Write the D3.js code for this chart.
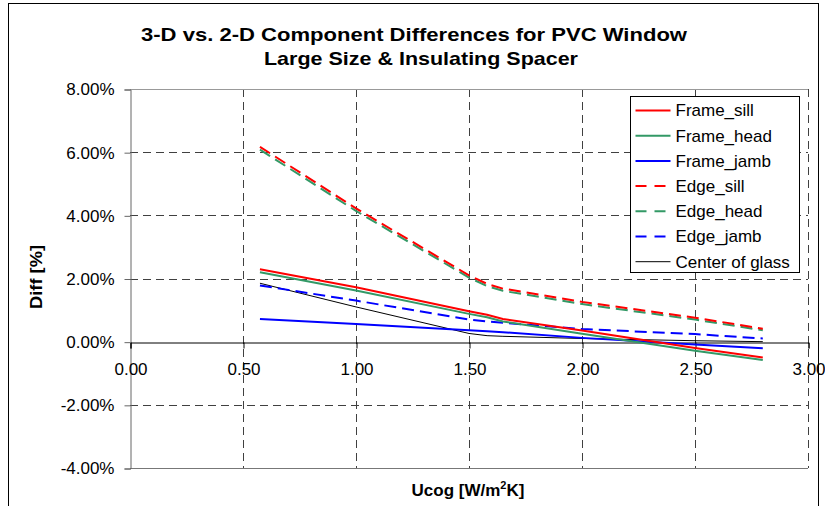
<!DOCTYPE html>
<html>
<head>
<meta charset="utf-8">
<script src="https://cdn.jsdelivr.net/npm/d3@7"></script>
<style>
  body { margin: 0; background: #fff; }
  text { font-family: "Liberation Sans", Arial, sans-serif; }
</style>
</head>
<body>
<div id="chart"></div>
<script>
// Ucog values [W/m2K]
var ucog = [0.575, 1.0, 1.5, 1.58, 1.65, 2.0, 2.5, 2.8];

// differences in %
var frameSill  = [2.29, 1.72, 0.96, 0.85, 0.72, 0.35, -0.20, -0.50];
var frameHead  = [2.20, 1.62, 0.88, 0.77, 0.64, 0.25, -0.29, -0.58];
var frameJamb  = [0.72, 0.56, 0.36, 0.33, 0.30, 0.12, -0.09, -0.21];
var edgeSill   = [6.17, 4.22, 2.10, 1.83, 1.68, 1.26, 0.76, 0.41];
var edgeHead   = [6.08, 4.14, 2.03, 1.76, 1.61, 1.19, 0.70, 0.36];
var edgeJamb   = [1.78, 1.30, 0.70, 0.64, 0.60, 0.40, 0.24, 0.10];
var centerGlass = [1.85, 1.10, 0.26, 0.19, 0.17, 0.10, 0.03, 0.00];

var seriesNames = ["Frame_sill", "Frame_head", "Frame_jamb", "Edge_sill", "Edge_head", "Edge_jamb", "Center of glass"];
var seriesValues = [frameSill, frameHead, frameJamb, edgeSill, edgeHead, edgeJamb, centerGlass];
var seriesColors = ["#ff0000", "#339966", "#0000ff", "#ff0000", "#339966", "#0000ff", "#000000"];
var seriesDashed = [false, false, false, true, true, true, false];

var xTicks = [0, 0.5, 1.0, 1.5, 2.0, 2.5, 3.0];
var yTicks = [-4, -2, 0, 2, 4, 6, 8];

var width = 825, height = 506;
var plot = {left: 130, right: 808, top: 89, bottom: 468};

var svg = d3.select("#chart").append("svg")
    .attr("width", width)
    .attr("height", height);

// outer chart border
svg.append("rect")
    .attr("x", 8.5).attr("y", 3.5)
    .attr("width", 810).attr("height", 530)
    .attr("fill", "#fff")
    .attr("stroke", "#000");

var x = d3.scaleLinear().domain([0, 3]).range([plot.left, plot.right]);
var y = d3.scaleLinear().domain([-4, 8]).range([plot.bottom, plot.top]);

// gridlines
var grid = svg.append("g");
grid.selectAll(".hg")
    .data(yTicks.filter(function(d) { return d != 0 && d != -4 && d != 8; }))
    .enter().append("line")
      .attr("x1", plot.left).attr("x2", plot.right)
      .attr("y1", function(d) { return Math.round(y(d)) + 0.5; })
      .attr("y2", function(d) { return Math.round(y(d)) + 0.5; })
      .attr("stroke", "#404040")
      .attr("stroke-dasharray", "8,5");
grid.selectAll(".vg")
    .data(xTicks.filter(function(d) { return d > 0; }))
    .enter().append("line")
      .attr("y1", plot.top).attr("y2", plot.bottom)
      .attr("x1", function(d) { return Math.round(x(d)) + 0.5; })
      .attr("x2", function(d) { return Math.round(x(d)) + 0.5; })
      .attr("stroke", "#404040")
      .attr("stroke-dasharray", "8,5");

// top and bottom edges of plot area
svg.append("line")
    .attr("x1", plot.left).attr("x2", plot.right)
    .attr("y1", Math.round(y(8)) + 0.5).attr("y2", Math.round(y(8)) + 0.5)
    .attr("stroke", "#999");
svg.append("line")
    .attr("x1", plot.left).attr("x2", plot.right)
    .attr("y1", Math.round(y(-4)) + 0.5).attr("y2", Math.round(y(-4)) + 0.5)
    .attr("stroke", "#777");

// y axis
var yAxis = d3.axisLeft(y)
    .tickValues(yTicks)
    .tickSize(6)
    .tickPadding(10)
    .tickFormat(function(d) { return d.toFixed(2) + "%"; });
var gy = svg.append("g")
    .attr("transform", "translate(" + (plot.left + 0.5) + ",0.5)")
    .call(yAxis);
gy.select(".domain").attr("stroke", "#666");
gy.selectAll(".tick line").attr("stroke", "#666");
gy.selectAll("text").attr("font-size", 17).attr("fill", "#000")
    .attr("font-family", "Liberation Sans, Arial, sans-serif");

// x axis on zero line
var xAxis = d3.axisBottom(x)
    .tickValues(xTicks)
    .tickSize(6)
    .tickPadding(14)
    .tickFormat(function(d) { return d.toFixed(2); });
var gx = svg.append("g")
    .attr("transform", "translate(0.5," + (Math.round(y(0)) + 0.5) + ")")
    .call(xAxis);
gx.select(".domain").attr("stroke", "#000");
gx.selectAll(".tick line").attr("stroke", "#000");
gx.selectAll("text").attr("font-size", 17).attr("fill", "#000")
    .attr("font-family", "Liberation Sans, Arial, sans-serif");

// series
var line = d3.line()
    .x(function(d) { return x(d[0]); })
    .y(function(d) { return y(d[1]); });

var drawOrder = [6, 5, 2, 4, 3, 1, 0];
drawOrder.forEach(function(i) {
  var pts = ucog.map(function(u, k) { return [u, seriesValues[i][k]]; });
  svg.append("path")
      .datum(pts)
      .attr("d", line)
      .attr("fill", "none")
      .attr("stroke", seriesColors[i])
      .attr("stroke-width", i == 6 ? 1 : 2)
      .attr("stroke-dasharray", seriesDashed[i] ? "12,6" : null);
});

// legend
var legend = svg.append("g").attr("transform", "translate(630.5,96.5)");
legend.append("rect")
    .attr("width", 169).attr("height", 176)
    .attr("fill", "#fff")
    .attr("stroke", "#000");
var item = legend.selectAll(".item")
    .data(seriesNames)
    .enter().append("g")
      .attr("transform", function(d, i) { return "translate(0," + (14 + i * 25.2) + ")"; });
item.append("line")
    .attr("x1", 5).attr("x2", 40)
    .attr("stroke", function(d, i) { return seriesColors[i]; })
    .attr("stroke-width", function(d, i) { return i == 6 ? 1 : 2; })
    .attr("stroke-dasharray", function(d, i) { return seriesDashed[i] ? "11,8" : null; });
item.append("text")
    .attr("x", 45)
    .attr("dy", "0.35em")
    .attr("font-size", 17)
    .text(function(d) { return d; });

// titles (the original text is drawn a bit wider than the font)
svg.append("text")
    .attr("x", 414).attr("y", 41)
    .attr("text-anchor", "middle")
    .attr("font-size", 19).attr("font-weight", "bold")
    .attr("textLength", 546).attr("lengthAdjust", "spacingAndGlyphs")
    .text("3-D vs. 2-D Component Differences for PVC Window");
svg.append("text")
    .attr("x", 421).attr("y", 65)
    .attr("text-anchor", "middle")
    .attr("font-size", 19).attr("font-weight", "bold")
    .attr("textLength", 314).attr("lengthAdjust", "spacingAndGlyphs")
    .text("Large Size & Insulating Spacer");

svg.append("text")
    .attr("transform", "translate(42,277) rotate(-90)")
    .attr("text-anchor", "middle")
    .attr("font-size", 17).attr("font-weight", "bold")
    .attr("textLength", 64).attr("lengthAdjust", "spacingAndGlyphs")
    .text("Diff [%]");

var xt = svg.append("text")
    .attr("x", 468).attr("y", 496)
    .attr("text-anchor", "middle")
    .attr("font-size", 17).attr("font-weight", "bold");
xt.append("tspan").text("Ucog [W/m");
xt.append("tspan").attr("dy", -7).attr("font-size", 11).text("2");
xt.append("tspan").attr("dy", 7).text("K]");
</script>
</body>
</html>
